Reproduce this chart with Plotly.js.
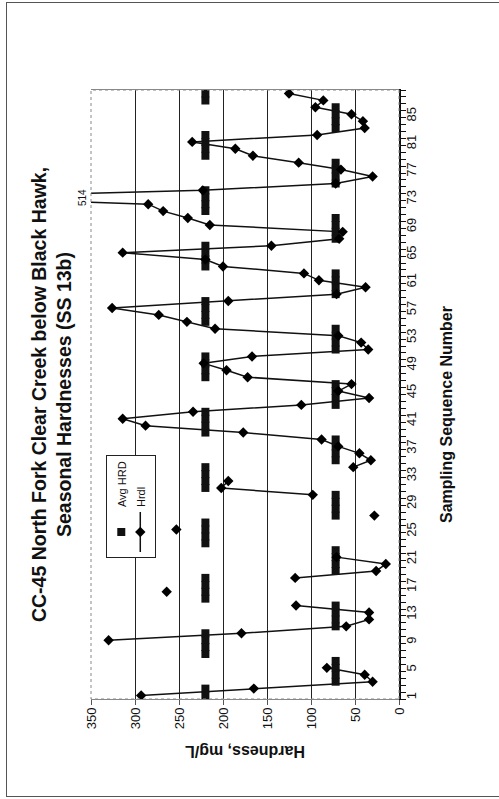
<!DOCTYPE html>
<html>
<head>
<meta charset="utf-8">
<script src="https://cdn.plot.ly/plotly-3.0.1.min.js"></script>
<style>
html, body { margin:0; padding:0; background:#fff; overflow:hidden; width:499px; height:799px; }
#chart { position:absolute; left:0; top:799px; width:799px; height:499px; transform-origin:0 0; transform:rotate(-90deg); }
#frame { position:absolute; left:6px; top:2px; width:500px; height:793px; border:1px solid #555; pointer-events:none; }
</style>
</head>
<body>
<div id="chart"></div>
<div id="frame"></div>
<script>
// Sampling sequence numbers (categories)
const sequence = [1,2,3,4,5,6,7,8,9,10,11,12,13,14,15,16,17,18,19,20,21,22,23,24,25,26,27,28,29,30,
  31,32,33,34,35,36,37,38,39,40,41,42,43,44,45,46,47,48,49,50,51,52,53,54,55,56,57,58,59,60,
  61,62,63,64,65,66,67,68,69,70,71,72,73,74,75,76,77,78,79,80,81,82,83,84,85,86,87,88];

// Hrdl: measured hardness, mg/L (null = no sample)
const hrdl = [293,165,30,39,82,null,null,null,330,179,60,34,34,117,null,264,null,118,26,15,
  71,null,null,null,253,null,28,null,null,98,202,194,null,52,32,45,69,88,177,288,
  314,234,111,34,69,54,172,196,222,167,35,43,69,209,241,273,326,194,71,38,
  91,108,200,220,314,145,68,64,215,240,268,285,514,223,72,30,66,114,166,186,
  235,93,39,41,54,95,86,125];

// Avg HRD: seasonal average hardness, mg/L
const avgHrd = [220,220,72,72,72,72,220,220,220,220,72,72,72,72,220,220,220,220,72,72,
  72,72,220,220,220,220,72,72,72,72,220,220,220,220,72,72,72,72,220,220,
  220,220,72,72,72,72,220,220,220,220,72,72,72,72,220,220,220,220,72,72,
  72,72,220,220,220,220,72,72,72,72,220,220,220,220,72,72,72,72,220,220,
  220,220,72,72,72,72,220,220];

// Axis ticks
const seqTicks = [1,5,9,13,17,21,25,29,33,37,41,45,49,53,57,61,65,69,73,77,81,85];
const seqTickText = ['1','5','9','13','17','21','25','29','33','37','41','45','49','53','57','61','65','69','73','77','81','85'];
const hardTicks = [0,50,100,150,200,250,300,350];

const offScaleLabel = {seq: 73, text: '514'};

const FONT = 'Liberation Sans, Arial, sans-serif';
const PAD = '&nbsp;&nbsp;&nbsp;&nbsp;&nbsp;&nbsp;&nbsp;&nbsp;&nbsp;';

const traces = [
  {
    type: 'scatter', mode: 'markers', name: 'Avg HRD',
    x: sequence, y: avgHrd,
    marker: {symbol: 'square', size: 8, color: '#111', line: {width: 0}},
    cliponaxis: true
  },
  {
    type: 'scatter', mode: 'lines+markers', name: 'Hrdl',
    x: sequence, y: hrdl,
    line: {color: '#111', width: 1.5},
    marker: {symbol: 'diamond', size: 8, color: '#000'},
    connectgaps: false,
    cliponaxis: true
  }
];

const layout = {
  width: 799, height: 499,
  margin: {l: 100, r: 90, t: 91, b: 100},
  paper_bgcolor: 'rgba(0,0,0,0)',
  plot_bgcolor: '#fff',
  font: {family: FONT, color: '#111'},
  showlegend: true,
  title: {
    text: '<b>CC-45 North Fork Clear Creek below Black Hawk,<br>Seasonal Hardnesses (SS 13b)</b>',
    font: {family: FONT, size: 19.5, color: '#111'},
    x: 0.5, xref: 'paper', xanchor: 'center',
    y: 0.908, yref: 'container', yanchor: 'middle'
  },
  xaxis: {
    range: [0.5, 88.5],
    tickmode: 'array', tickvals: seqTicks, ticktext: seqTickText,
    ticks: '', showgrid: false, zeroline: false,
    showline: true, linecolor: '#111', linewidth: 1.5,
    tickfont: {family: FONT, size: 13, color: '#111'},
    minor: {tick0: 0.5, dtick: 1, ticks: 'outside', ticklen: 5, tickcolor: '#111', tickwidth: 1, showgrid: false},
    title: {text: '<b>Sampling Sequence Number</b>' + PAD, font: {family: FONT, size: 16, color: '#111'}, standoff: 22}
  },
  yaxis: {
    range: [0, 350],
    tickmode: 'array', tickvals: hardTicks,
    ticks: 'outside', ticklen: 5, tickcolor: '#555',
    showgrid: true, gridcolor: '#222', gridwidth: 1,
    zeroline: false,
    showline: true, linecolor: '#888', linewidth: 1, mirror: true,
    tickfont: {family: FONT, size: 13, color: '#111'},
    title: {text: '<b>Hardness, mg/L</b>', font: {family: FONT, size: 16, color: '#111'}, standoff: 12}
  },
  legend: {
    x: 0.2315, y: 0.952, xanchor: 'left', yanchor: 'top',
    bgcolor: '#fff', bordercolor: '#222', borderwidth: 1,
    font: {family: FONT, size: 11, color: '#111'},
    itemwidth: 40,
    tracegroupgap: 2
  },
  annotations: [
    {x: offScaleLabel.seq, y: 1, xref: 'x', yref: 'paper', yanchor: 'bottom', yshift: 1,
     text: offScaleLabel.text, showarrow: false, font: {family: FONT, size: 10, color: '#111'}}
  ],
  shapes: [
    {type: 'rect', xref: 'paper', yref: 'paper', x0: 0, x1: 1, y0: 0, y1: 1,
     line: {color: '#888', width: 1, dash: 'dot'}}
  ]
};

Plotly.newPlot('chart', traces, layout, {displayModeBar: false, staticPlot: true});
</script>
</body>
</html>
